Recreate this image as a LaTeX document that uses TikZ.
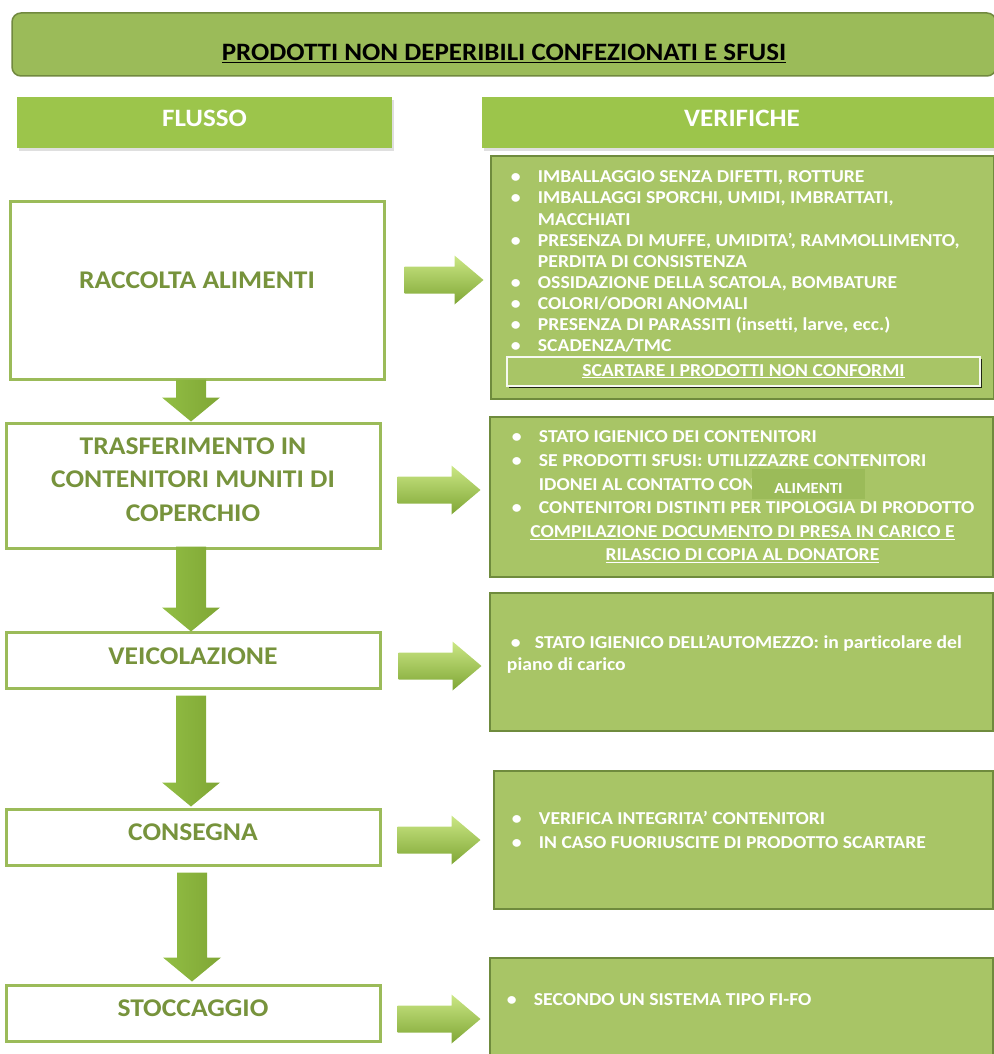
\documentclass[tikz,border=0pt]{standalone}
\usepackage{fontspec}
\setmainfont{Carlito}[FakeStretch=1.08, Ligatures=NoCommon]
\usetikzlibrary{calc,positioning,shadows}

\definecolor{verdetitolo}{HTML}{9BBB59}
\definecolor{bordotitolo}{HTML}{71893F}
\definecolor{verdetesta}{HTML}{9CC54B}
\definecolor{verdetesto}{HTML}{77933C}
\definecolor{verdebox}{HTML}{A8C566}
\definecolor{bordobox}{HTML}{6F8B3D}
\definecolor{frecciachiara}{HTML}{CBE785}
\definecolor{frecciamedia}{HTML}{92BE44}
\definecolor{frecciascura}{HTML}{7FA635}

\newcommand{\voce}{\makebox[27pt][l]{\textbullet}}
\newcommand{\rientro}{\makebox[27pt]{}}
% freccia verso il basso: punta, lunghezza
\newcommand{\frecciagiu}[2]{%
  \shade[giu] #1 -- ++(29,-24) -- ++(-14,0) -- ++(0,{24-#2}) -- ++(-30,0) -- ++(0,{#2-24}) -- ++(-14,0) -- cycle;}
% freccia verso destra: coda, lunghezza
\newcommand{\frecciadestra}[2]{%
  \shade[destra] #1 ++(0,-13.5) -- ++({#2-29},0) -- ++(0,-11) -- ++(29,24.5) -- ++(-29,24.5) -- ++(0,-11) -- ++({29-#2},0) -- cycle;}

\begin{document}
\begin{tikzpicture}[x=1pt, y=-1pt,
    titolobox/.style={draw=bordotitolo, line width=1.5pt, fill=verdetitolo, rounded corners=9pt,
        font=\fontsize{25}{28}\selectfont\bfseries, inner sep=0pt},
    testata/.style={fill=verdetesta, text=white, font=\fontsize{25}{28}\selectfont\bfseries,
        drop shadow={shadow xshift=2pt, shadow yshift=-3pt, opacity=0.25}, inner sep=0pt},
    flusso/.style={draw=verdetitolo, line width=3pt, fill=white, text=verdetesto, align=center,
        font=\fontsize{25.5}{33.5}\selectfont\bfseries, minimum width=374, inner sep=0pt},
    verifica/.style={draw=bordobox, line width=2.5pt, fill=verdebox, minimum width=503, inner sep=0pt},
    elenco/.style={anchor=north west, align=left, text=white, inner sep=0pt},
    giu/.style={left color=frecciamedia, middle color=frecciachiara, right color=frecciascura},
    destra/.style={top color=frecciachiara, bottom color=frecciascura}]

\useasboundingbox (0,0) rectangle (993,1054);

% titolo e intestazioni
\node[titolobox, minimum width=984, minimum height=63, text height=34pt] (titolo) at (504,44.5)
    {\underline{PRODOTTI NON DEPERIBILI CONFEZIONATI E SFUSI}};
\node[testata, minimum width=375, minimum height=51, text depth=9pt] (flussotesta) at (204.5,122.5) {FLUSSO};
\node[testata, minimum width=520, minimum height=51, text depth=9pt] (verifichetesta) at (742,122.5) {VERIFICHE};

% colonna flusso
\node[flusso, minimum height=178, text depth=20pt] (raccolta) at (197,290) {RACCOLTA ALIMENTI};
\node[flusso, minimum height=125, text depth=12pt] (trasf) at (193,485.5)
    {TRASFERIMENTO IN\\CONTENITORI MUNITI DI\\COPERCHIO};
\node[flusso, minimum height=56, text depth=7pt] (veicol) at (193,660) {VEICOLAZIONE};
\node[flusso, minimum height=56, text depth=10pt] (consegna) at (193,837) {CONSEGNA};
\node[flusso, minimum height=56, text depth=10pt] (stocc) at (193,1013) {STOCCAGGIO};

\frecciagiu{($(trasf.north)+(-2,0)$)}{42}
\frecciagiu{($(veicol.north)+(-2,1)$)}{85}
\frecciagiu{($(consegna.north)+(-2,-1)$)}{111}
\frecciagiu{($(stocc.north)+(-1,-2)$)}{109}

% colonna verifiche
\node[verifica, minimum height=243] (v1) at (742.5,277.5) {};
\node[verifica, minimum height=160] (v2) at (741.5,497) {};
\node[verifica, minimum height=138] (v3) at (741.5,662) {};
\node[verifica, minimum width=499, minimum height=138] (v4) at (743.5,840) {};
\node[verifica, minimum height=102] (v5) at (741.5,1009) {};

\frecciadestra{($(raccolta.east)+(19,-10)$)}{79}
\frecciadestra{($(trasf.east)+(16,4.5)$)}{83}
\frecciadestra{($(veicol.east)+(17,6)$)}{83}
\frecciadestra{($(consegna.east)+(16,3)$)}{83}
\frecciadestra{($(stocc.east)+(16,6)$)}{83}

\node[elenco, font=\fontsize{18.2}{21.1}\selectfont\bfseries] (t1) at ($(v1.north west)+(21,16)$)
    {\voce IMBALLAGGIO SENZA DIFETTI, ROTTURE\\
     \voce IMBALLAGGI SPORCHI, UMIDI, IMBRATTATI,\\
     \rientro MACCHIATI\\
     \voce PRESENZA DI MUFFE, UMIDITA’, RAMMOLLIMENTO,\\
     \rientro PERDITA DI CONSISTENZA\\
     \voce OSSIDAZIONE DELLA SCATOLA, BOMBATURE\\
     \voce COLORI/ODORI ANOMALI\\
     \voce PRESENZA DI PARASSITI (insetti, larve, ecc.)\\
     \voce SCADENZA/TMC};
\node[draw=white!90!verdebox, line width=1.5pt, fill=verdebox, text=white, minimum width=473, minimum height=29,
    inner sep=0pt, font=\fontsize{18.2}{20}\selectfont\bfseries,
    drop shadow={shadow xshift=2pt, shadow yshift=-2pt, fill=black, opacity=0.8}]
    (scarta) at ($(v1.north)+(1,216.5)$) {\underline{SCARTARE I PRODOTTI NON CONFORMI}};

\node[elenco, font=\fontsize{18.2}{23.7}\selectfont\bfseries] (t2) at ($(v2.north west)+(23,15)$)
    {\voce STATO IGIENICO DEI CONTENITORI\\
     \voce SE PRODOTTI SFUSI: UTILIZZAZRE CONTENITORI\\
     \rientro IDONEI AL CONTATTO CON\\
     \voce CONTENITORI DISTINTI PER TIPOLOGIA DI PRODOTTO};
\node[fill=verdetitolo, minimum width=113, minimum height=30, inner sep=0pt, text=white, text height=18pt,
    font=\fontsize{15.5}{17}\selectfont\bfseries] (alimenti) at (808.5,484) {ALIMENTI};
\node[align=center, anchor=north, text=white, inner sep=0pt, font=\fontsize{18.2}{23}\selectfont\bfseries]
    (compila) at ($(v2.north)+(1,110)$)
    {\underline{COMPILAZIONE DOCUMENTO DI PRESA IN CARICO E}\\\underline{RILASCIO DI COPIA AL DONATORE}};

\node[elenco, font=\fontsize{18.2}{22.5}\selectfont\bfseries] (t3) at ($(v3.north west)+(18,43)$)
    {\makebox[28pt][l]{\hspace*{4pt}\textbullet}STATO IGIENICO DELL’AUTOMEZZO: in particolare del\\
     piano di carico};

\node[elenco, font=\fontsize{18.2}{24}\selectfont\bfseries] (t4) at ($(v4.north west)+(19,41)$)
    {\voce VERIFICA INTEGRITA’ CONTENITORI\\
     \voce IN CASO FUORIUSCITE DI PRODOTTO SCARTARE};

\node[elenco, font=\fontsize{18.2}{24}\selectfont\bfseries] (t5) at ($(v5.north west)+(18,37)$)
    {\voce SECONDO UN SISTEMA TIPO FI-FO};

\end{tikzpicture}
\end{document}
